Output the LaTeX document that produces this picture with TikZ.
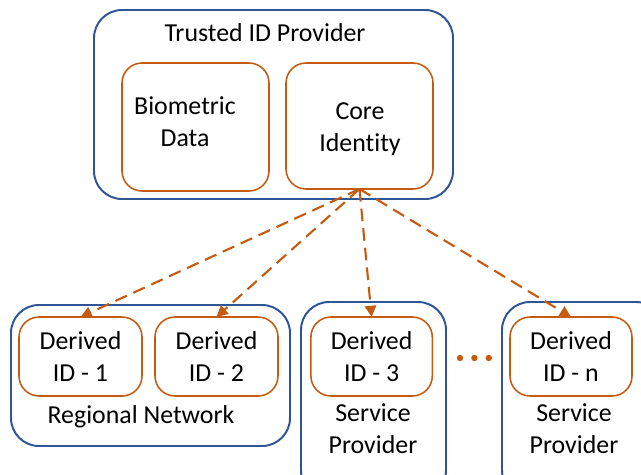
\documentclass[tikz,border=0pt]{standalone}
\usepackage{fontspec}
\setmainfont{Carlito}[Ligatures=NoCommon]
\usetikzlibrary{arrows.meta}

\definecolor{provblue}{HTML}{2F5597}
\definecolor{idorange}{HTML}{C55A11}

\begin{document}
\begin{tikzpicture}[
        font=\fontsize{18.4}{22.7}\selectfont,
        group/.style={draw=provblue, line width=1.4pt, rounded corners=0.7cm, outer sep=0pt},
        idbox/.style={draw=idorange, line width=1.1pt, rounded corners=0.5cm, outer sep=0pt, align=center},
        link/.style={idorange, line width=1.5pt, dash pattern=on 9pt off 5pt, -{Triangle[length=8pt,width=8pt]}}
    ]
        \useasboundingbox (0,0) rectangle (16.025,11.85);
        \clip (0,0) rectangle (16.025,11.85);

        % Trusted ID provider
        \node[group, minimum width=8.975cm, minimum height=4.725cm] (tip) at (6.8375,9.2375) {};
        \node (tiptitle) at (6.625,11.025) {Trusted ID Provider};
        \node[idbox, minimum width=3.675cm, minimum height=3.2cm] (bio) at (4.8875,8.675) {};
        \node[align=center] (biotext) at (4.625,8.8) {Biometric\\Data};
        \node[idbox, minimum width=3.675cm, minimum height=3.15cm] (core) at (8.9875,8.7) {};
        \node[align=center, text depth=0pt] (coretext) at (9.0,8.675) {Core\\Identity};

        % Regional network
        \node[group, minimum width=6.975cm, minimum height=3.525cm] (region) at (3.7625,2.4625) {};
        \node[idbox, minimum width=3.075cm, minimum height=1.975cm] (id1) at (2.0125,2.9375) {Derived\\ID - 1};
        \node[idbox, minimum width=3.075cm, minimum height=1.975cm] (id2) at (5.4125,2.9375) {Derived\\ID - 2};
        \node[text depth=0pt] (regiontext) at (3.525,1.475) {Regional Network};

        % Service providers
        \node[group, minimum width=3.625cm, minimum height=4.9cm] (sp3) at (9.3375,1.85) {};
        \node[idbox, minimum width=3.035cm, minimum height=1.975cm] (id3) at (9.29,2.9375) {Derived\\ID - 3};
        \node[align=center] (sp3text) at (9.325,1.1375) {Service\\Provider};
        \node[group, minimum width=4.05cm, minimum height=4.9cm] (spn) at (14.575,1.85) {};
        \node[idbox, minimum width=3.05cm, minimum height=1.975cm] (idn) at (14.275,2.9375) {Derived\\ID - n};
        \node[align=center] (spntext) at (14.35,1.1375) {Service\\Provider};

        % Dots between providers
        \foreach \x in {11.5,11.86,12.22}
            \fill[idorange] (\x,2.9) circle (0.08);

        % Derived IDs from the core identity
        \foreach \t in {id1,id2,id3,idn}
            \draw[link] (core.south) -- (\t.north);
    \end{tikzpicture}
\end{document}
